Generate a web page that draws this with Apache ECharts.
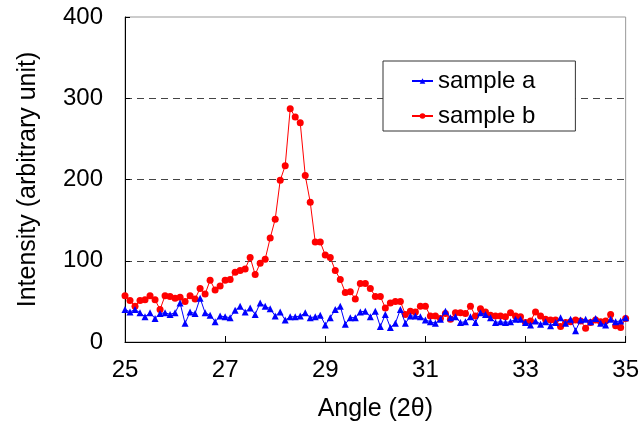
<!DOCTYPE html>
<html>
<head>
<meta charset="utf-8">
<script src="https://cdn.jsdelivr.net/npm/echarts@6/dist/echarts.min.js"></script>
<style>html,body{margin:0;padding:0;background:#fff;}#c{width:642px;height:438px;}</style>
</head>
<body>
<div id="c"></div>
<script>
// Angle values 25.0 .. 35.0 step 0.1 (101 points)
var angleStart = 25.0;
var angleStep = 0.1;
var sampleA = [40,37,40,36,31,36,29,35,36,34,36,48,23,37,35,54,36,33,25,32,
               31,30,39,44,37,42,34,48,44,41,32,37,27,31,31,32,36,30,31,33,
               21,30,40,44,22,30,30,37,38,31,38,19,34,18,23,40,23,32,32,31,
               27,25,23,28,38,30,31,24,25,31,24,36,34,30,24,25,24,25,28,28,
               24,21,26,22,25,20,24,30,23,28,14,27,28,25,29,23,21,28,25,26,30];
var sampleB = [57,51,44,51,52,57,52,40,57,56,54,55,50,57,53,66,59,76,64,69,
               76,77,86,88,90,104,83,97,102,128,151,199,217,287,277,270,205,172,123,123,
               107,104,88,77,61,62,53,72,72,66,56,56,42,48,50,50,34,38,37,44,
               44,32,32,29,35,28,36,36,35,44,32,41,37,33,32,32,31,36,32,31,
               24,26,37,32,28,27,27,19,24,25,27,26,17,24,27,25,26,34,20,18,29];
var xTicks = [25,27,29,31,33,35];
var yTicks = [0,100,200,300,400];

function pairs(vals){
  return vals.map(function(v,i){ return [+(angleStart + i*angleStep).toFixed(1), v]; });
}

var chart = echarts.init(document.getElementById('c'), null, {renderer:'canvas'});
var font = '"Liberation Sans", Arial, sans-serif';
chart.setOption({
  animation: false,
  backgroundColor: '#fff',
  grid: {left:125, right:15, top:17, bottom:96, show:true, borderColor:'#999', borderWidth:1},
  legend: {
    orient:'vertical', left:383, top:61,
    backgroundColor:'#fff', borderColor:'#333', borderWidth:1,
    padding:[8,40,3,28], itemGap:11, itemWidth:21, itemHeight:7,
    textStyle:{fontFamily:font, fontSize:24, color:'#000'},
    data:['sample a','sample b']
  },
  xAxis: {
    type:'value', min:25, max:35, interval:2,
    name:'Angle (2θ)', nameLocation:'middle', nameGap:55,
    nameTextStyle:{fontFamily:font, fontSize:25, color:'#000'},
    axisLine:{show:true, lineStyle:{color:'#000', width:1}},
    axisTick:{show:true, inside:true, length:6, lineStyle:{color:'#000'}},
    axisLabel:{fontFamily:font, fontSize:24, color:'#000', margin:16,
      formatter:function(v){ return xTicks.indexOf(v)>=0 ? String(v) : ''; }},
    splitLine:{show:false}
  },
  yAxis: {
    type:'value', min:0, max:400, interval:100,
    name:'Intensity (arbitrary unit)', nameLocation:'middle', nameGap:84,
    nameTextStyle:{fontFamily:font, fontSize:25, color:'#000'},
    axisLine:{show:true, lineStyle:{color:'#000', width:1}},
    axisTick:{show:true, inside:true, length:5, lineStyle:{color:'#000'}},
    axisLabel:{fontFamily:font, fontSize:24, color:'#000', margin:22,
      formatter:function(v){ return yTicks.indexOf(v)>=0 ? String(v) : ''; }},
    splitLine:{show:true, lineStyle:{color:['#444','#444','#444','#444','rgba(0,0,0,0)'], type:[7,5], width:1}}
  },
  series: [
    {name:'sample a', type:'line', data:pairs(sampleA), symbol:'triangle', symbolSize:7,
     color:'#0000ff', lineStyle:{width:1, color:'#0000ff'}, itemStyle:{color:'#0000ff'}, z:3},
    {name:'sample b', type:'line', data:pairs(sampleB), symbol:'circle', symbolSize:7,
     color:'#ff0000', lineStyle:{width:1, color:'#ff0000'}, itemStyle:{color:'#ff0000'}, z:2}
  ]
});
</script>
</body>
</html>
